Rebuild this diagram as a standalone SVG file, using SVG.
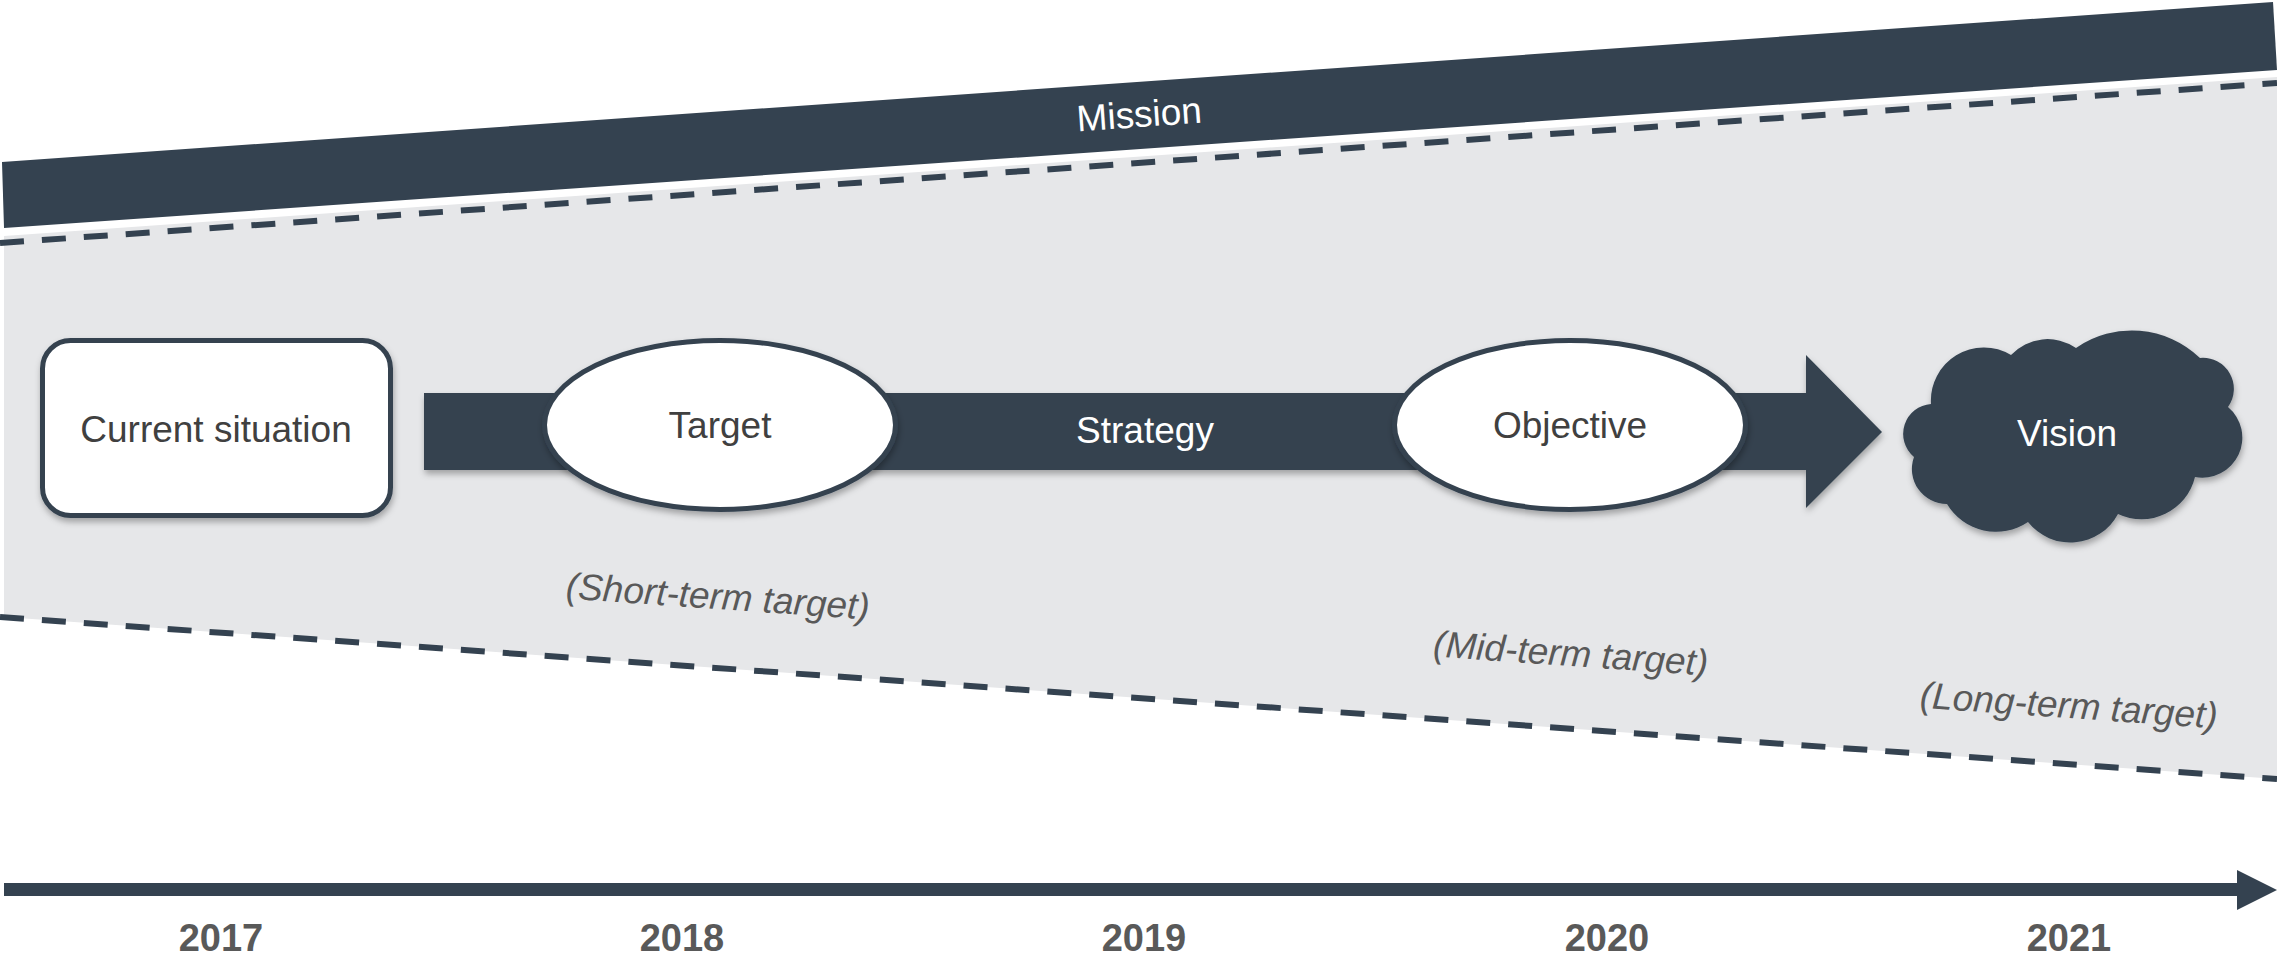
<svg xmlns="http://www.w3.org/2000/svg" width="2277" height="955" viewBox="0 0 2277 955">
<style>
.dark{fill:#344250}
.lbl{font-family:"Liberation Sans",Arial,sans-serif;font-size:37px;text-anchor:middle}
.dk{fill:#404040}
.wt{fill:#ffffff}
.note{font-family:"Liberation Sans",Arial,sans-serif;font-size:37px;font-style:italic;fill:#595959;text-anchor:middle}
.year{font-family:"Liberation Sans",Arial,sans-serif;font-size:38px;font-weight:bold;fill:#595959;text-anchor:middle}
.dash{fill:none;stroke:#344250;stroke-width:6;stroke-dasharray:24 18}
.node{fill:#ffffff;stroke:#344250;stroke-width:5}
</style>
<defs>
<filter id="sh" x="-10%" y="-10%" width="120%" height="130%">
<feDropShadow dx="1" dy="4" stdDeviation="3" flood-color="#000" flood-opacity="0.3"/>
</filter>
</defs>
<rect width="2277" height="955" fill="#ffffff"/>
<g id="band">
<polygon points="4,236 2277,77 2277,779 4,617" fill="#E6E7E9"/>
<polygon class="dark" points="2,162 2273,2 2277,70 4,228"/>
<text class="lbl wt" x="1140" y="127" transform="rotate(-4.03 1140 127)">Mission</text>
<line class="dash" x1="0" y1="243" x2="2277" y2="83"/>
<line class="dash" x1="0" y1="617" x2="2277" y2="779"/>
</g>
<g id="connectors">
<polygon class="dark" filter="url(#sh)" points="424,393 1806,393 1806,355 1882,432 1806,508 1806,470 424,470"/>
<text class="lbl wt" x="1145" y="443">Strategy</text>
<g id="timeline">
<rect class="dark" x="4" y="883" width="2236" height="13"/>
<polygon class="dark" points="2237,870 2277,890 2237,910"/>
</g>
</g>
<g id="current">
<rect class="node" filter="url(#sh)" x="42.5" y="340.5" width="348" height="175" rx="28"/>
<text class="lbl dk" x="216" y="442">Current situation</text>
</g>
<g id="target">
<ellipse class="node" filter="url(#sh)" cx="720" cy="425" rx="175.5" ry="84.5"/>
<text class="lbl dk" x="720" y="438">Target</text>
</g>
<g id="objective">
<ellipse class="node" filter="url(#sh)" cx="1570" cy="425" rx="175.5" ry="84.5"/>
<text class="lbl dk" x="1570" y="438">Objective</text>
</g>
<g id="vision">
<path class="dark" filter="url(#sh)" d="M1931,404 A53,53 0 0 1 2011,355 A50,50 0 0 1 2076,348 A98,98 0 0 1 2200,358 A31,31 0 0 1 2228,407 A40,40 0 0 1 2195,477 A55,55 0 0 1 2118,514 A54,54 0 0 1 2028,522 A57,57 0 0 1 1947,504 A35,35 0 0 1 1914,457 A30,30 0 0 1 1931,404 Z"/>
<text class="lbl wt" x="2067" y="446">Vision</text>
</g>
<g id="notes">
<text class="note" x="717" y="609" transform="rotate(4 717 609)">(Short-term target)</text>
<text class="note" x="1570" y="666" transform="rotate(4 1570 666)">(Mid-term target)</text>
<text class="note" x="2068" y="718" transform="rotate(4 2068 718)">(Long-term target)</text>
</g>
<g id="years">
<text class="year" x="221" y="951">2017</text>
<text class="year" x="682" y="951">2018</text>
<text class="year" x="1144" y="951">2019</text>
<text class="year" x="1607" y="951">2020</text>
<text class="year" x="2069" y="951">2021</text>
</g>
</svg>
